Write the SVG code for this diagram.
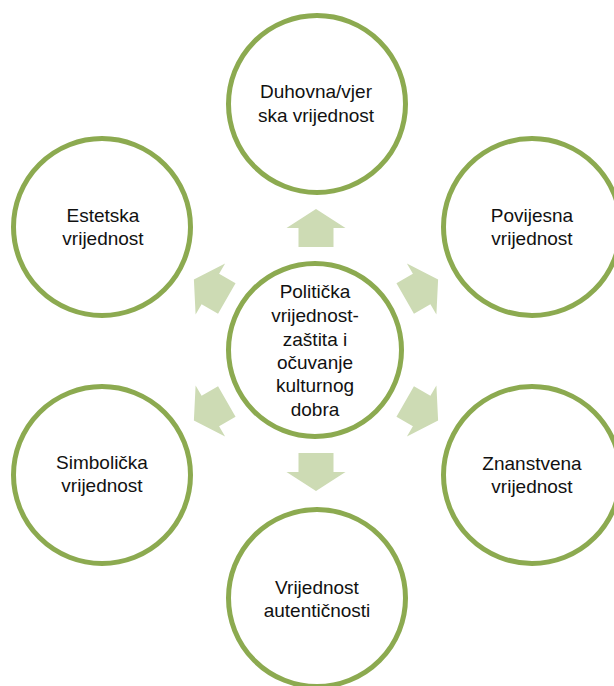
<svg xmlns="http://www.w3.org/2000/svg" width="614" height="686" viewBox="0 0 614 686">
<defs>
<style>
.node circle{fill:#fff;stroke:#8CAA50;stroke-width:5}
.node text{font-family:"Liberation Sans",Arial,sans-serif;font-size:19px;fill:#111;text-anchor:middle}
.arr{fill:#CDDBB4}
</style>
<polygon id="arrow" class="arr" points="103,-17.5 122,-17.5 122,-29.5 141,0 122,29.5 122,17.5 103,17.5"/>
</defs>
<rect width="614" height="686" fill="#fff"/>
<g id="connectors">
<use href="#arrow" transform="translate(316,350) rotate(-90)"/>
<use href="#arrow" transform="translate(316,350) rotate(-30)"/>
<use href="#arrow" transform="translate(316,350) rotate(30)"/>
<use href="#arrow" transform="translate(316,350) rotate(90)"/>
<use href="#arrow" transform="translate(316,350) rotate(150)"/>
<use href="#arrow" transform="translate(316,350) rotate(210)"/>
</g>
<g id="center" class="node">
<circle cx="315" cy="350" r="86.5"/>
<text x="315" y="298">Politička</text>
<text x="315" y="322">vrijednost-</text>
<text x="315" y="346">zaštita i</text>
<text x="315" y="369">očuvanje</text>
<text x="315" y="392">kulturnog</text>
<text x="315" y="416">dobra</text>
</g>
<g id="duhovna" class="node">
<circle cx="317" cy="104" r="88.5"/>
<text x="316" y="98">Duhovna/vjer</text>
<text x="316" y="122">ska vrijednost</text>
</g>
<g id="povijesna" class="node">
<circle cx="532" cy="227" r="88.5"/>
<text x="532" y="222">Povijesna</text>
<text x="532" y="245">vrijednost</text>
</g>
<g id="znanstvena" class="node">
<circle cx="532" cy="475" r="88.5"/>
<text x="532" y="470">Znanstvena</text>
<text x="532" y="493">vrijednost</text>
</g>
<g id="autenticnost" class="node">
<circle cx="317" cy="598" r="88.5"/>
<text x="317" y="594">Vrijednost</text>
<text x="317" y="617">autentičnosti</text>
</g>
<g id="simbolicka" class="node">
<circle cx="102" cy="475" r="88.5"/>
<text x="102" y="469">Simbolička</text>
<text x="102" y="492">vrijednost</text>
</g>
<g id="estetska" class="node">
<circle cx="102" cy="227" r="88.5"/>
<text x="103" y="222">Estetska</text>
<text x="103" y="245">vrijednost</text>
</g>
</svg>
